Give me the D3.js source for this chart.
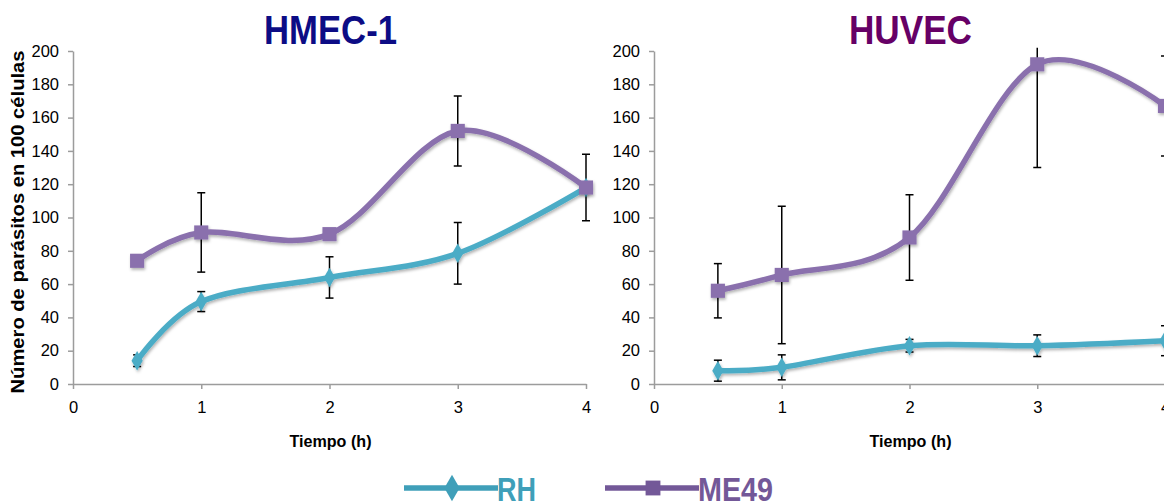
<!DOCTYPE html>
<html>
<head>
<meta charset="utf-8">
<script src="https://cdn.jsdelivr.net/npm/d3@7"></script>
<style>
  body { margin: 0; background: #fff; }
  svg { display: block; font-family: "Liberation Sans", Arial, sans-serif; }
  .axis path, .axis line { stroke: #9c9c9c; stroke-width: 1.5; }
  .axis text { font-size: 16.5px; fill: #000; }
</style>
</head>
<body>
<script>
// time points (h)
var times = [0.5, 1, 2, 3, 4];
var xTicks = [0, 1, 2, 3, 4];
var yTicks = [0, 20, 40, 60, 80, 100, 120, 140, 160, 180, 200];

// HMEC-1
var hmecRH = [14, 49.5, 64, 78.5, 118];
var hmecRHErr = [3.5, 6, 12.4, 18.5, 3];
var hmecME = [74, 91, 90, 152, 118];
var hmecMEErr = [2, 23.8, 2, 21, 20];

// HUVEC
var huvecRH = [8, 10, 23, 23, 26];
var huvecRHErr = [6.3, 7.5, 3.8, 6.5, 9];
var huvecME = [56, 65.5, 88, 192, 167];
var huvecMEErr = [16.3, 41.3, 25.7, 62, 30];

var rhColor = "#4bacc6", meColor = "#8a70ad";

var svg = d3.select("body").append("svg")
    .attr("width", 1164).attr("height", 504);

// soft shadow like the spreadsheet export
var defs = svg.append("defs");
defs.append("filter").attr("id", "shadow")
    .attr("x", "-20%").attr("y", "-20%").attr("width", "140%").attr("height", "140%")
  .append("feDropShadow")
    .attr("dx", 1).attr("dy", 2).attr("stdDeviation", 1.5)
    .attr("flood-color", "#000").attr("flood-opacity", 0.3);

var y = d3.scaleLinear().domain([0, 200]).range([384, 51]);

// text squeezed to a given width (the original uses a condensed face)
function squeezed(sel, w) {
    return sel.attr("textLength", w).attr("lengthAdjust", "spacingAndGlyphs");
}

function drawPanel(x0, x1, id, title, titleColor, titleW, rh, rhErr, me, meErr, showYLabel) {
    var x = d3.scaleLinear().domain([0, 4]).range([x0, x1]);
    var g = svg.append("g");

    // clip error bars to plot area
    defs.append("clipPath").attr("id", "clip" + id)
      .append("rect").attr("x", x0 - 20).attr("y", y(202))
      .attr("width", x1 - x0 + 40).attr("height", y(0) - y(202) + 10);

    g.append("g").attr("class", "axis")
        .attr("transform", "translate(" + x0 + ",0)")
        .call(d3.axisLeft(y).tickValues(yTicks).tickSize(5).tickSizeOuter(0).tickPadding(9));

    g.append("g").attr("class", "axis")
        .attr("transform", "translate(0," + y(0) + ")")
        .call(d3.axisBottom(x).tickValues(xTicks).tickFormat(d3.format("d"))
            .tickSize(5).tickSizeOuter(0).tickPadding(12));

    squeezed(g.append("text")
        .attr("x", (x0 + x1) / 2 + 1).attr("y", 44)
        .attr("text-anchor", "middle")
        .style("font-weight", "bold").style("font-size", "41px")
        .attr("fill", titleColor)
        .text(title), titleW);

    squeezed(g.append("text")
        .attr("x", (x0 + x1) / 2 + 1).attr("y", 447)
        .attr("text-anchor", "middle")
        .style("font-weight", "bold").style("font-size", "17px")
        .text("Tiempo (h)"), 82);

    if (showYLabel) {
        squeezed(g.append("text")
            .attr("transform", "translate(24,222) rotate(-90)")
            .attr("text-anchor", "middle")
            .style("font-weight", "bold").style("font-size", "17.5px")
            .text("Número de parásitos en 100 células"), 343);
    }

    var series = [
        { vals: rh, err: rhErr, color: rhColor, shape: d3.symbolDiamond, size: 110 },
        { vals: me, err: meErr, color: meColor, shape: d3.symbolSquare, size: 200 }
    ];

    // error bars
    var eb = g.append("g").attr("clip-path", "url(#clip" + id + ")")
        .attr("stroke", "#000").attr("stroke-width", 1.5);
    series.forEach(function(s) {
        times.forEach(function(t, i) {
            var cx = x(t), lo = y(s.vals[i] - s.err[i]), hi = y(s.vals[i] + s.err[i]);
            eb.append("line").attr("x1", cx).attr("x2", cx).attr("y1", lo).attr("y2", hi);
            eb.append("line").attr("x1", cx - 4).attr("x2", cx + 4).attr("y1", lo).attr("y2", lo);
            eb.append("line").attr("x1", cx - 4).attr("x2", cx + 4).attr("y1", hi).attr("y2", hi);
        });
    });

    var line = d3.line()
        .x(function(d, i) { return x(times[i]); })
        .y(function(d) { return y(d); })
        .curve(d3.curveCardinal.tension(0));

    series.forEach(function(s) {
        var sg = g.append("g").attr("filter", "url(#shadow)");
        sg.append("path").datum(s.vals)
            .attr("d", line)
            .attr("fill", "none").attr("stroke", s.color)
            .attr("stroke-width", 5.5).attr("stroke-linecap", "round");
        sg.selectAll(".mk").data(s.vals).enter().append("path")
            .attr("transform", function(d, i) { return "translate(" + x(times[i]) + "," + y(d) + ")"; })
            .attr("d", d3.symbol().type(s.shape).size(s.size))
            .attr("fill", s.color);
    });
}

drawPanel(73, 586, "a", "HMEC-1", "#0c0c85", 133, hmecRH, hmecRHErr, hmecME, hmecMEErr, true);
drawPanel(654, 1165, "b", "HUVEC", "#660066", 123, huvecRH, huvecRHErr, huvecME, huvecMEErr, false);

// legend
var legend = [
    { name: "RH", color: "#3f9fb9", shape: d3.symbolDiamond, size: 200, x: 404, w: 39 },
    { name: "ME49", color: "#735898", shape: d3.symbolSquare, size: 220, x: 605, w: 75 }
];
var lg = svg.append("g");
legend.forEach(function(l) {
    lg.append("line").attr("x1", l.x).attr("x2", l.x + 94)
        .attr("y1", 488).attr("y2", 488)
        .attr("stroke", l.color).attr("stroke-width", 5.5);
    lg.append("path")
        .attr("transform", "translate(" + (l.x + 48) + ",488)")
        .attr("d", d3.symbol().type(l.shape).size(l.size))
        .attr("fill", l.color);
    squeezed(lg.append("text").attr("x", l.x + 93).attr("y", 501)
        .style("font-weight", "bold").style("font-size", "34px")
        .attr("fill", l.color)
        .text(l.name), l.w);
});
</script>
</body>
</html>
